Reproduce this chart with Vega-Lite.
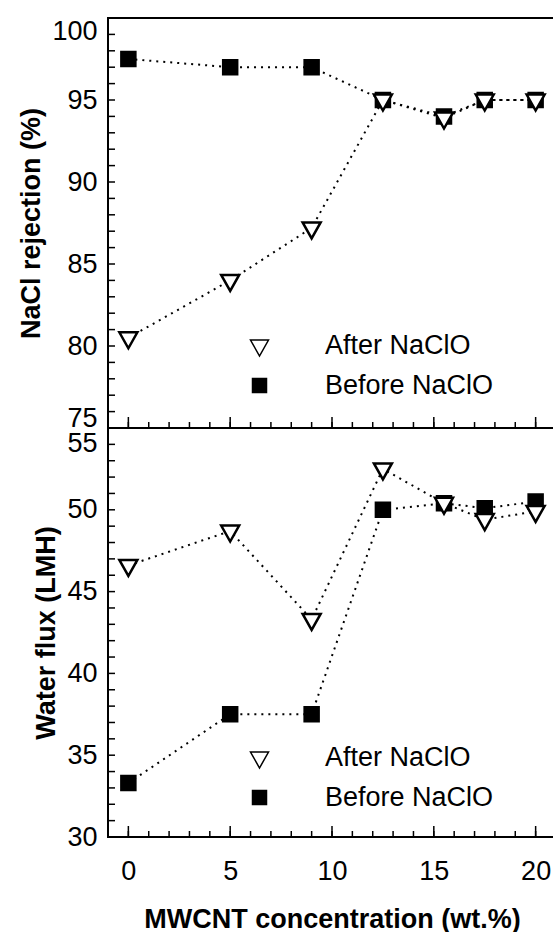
{
  "$schema": "https://vega.github.io/schema/vega-lite/v6.json",
  "padding": {"left": 16, "top": 14, "right": 0, "bottom": 5},
  "background": "white",
  "spacing": 0,
  "bounds": "flush",
  "config": {
    "font": "Liberation Sans",
    "view": {"stroke": "black", "strokeWidth": 2},
    "axis": {
      "labelFont": "Liberation Sans", "labelFontSize": 27, "labelColor": "black",
      "titleFont": "Liberation Sans", "titleFontSize": 27, "titleFontWeight": "bold", "titleColor": "black",
      "ticks": false, "tickSize": 0, "domain": false, "grid": false
    },
    "legend": {"labelFont": "Liberation Sans", "labelFontSize": 27, "labelColor": "black", "labelLimit": 400}
  },
  "datasets": {
    "rej": [
      {"series": "Before NaClO", "x": 0, "y": 97.5},
      {"series": "Before NaClO", "x": 5, "y": 97.0},
      {"series": "Before NaClO", "x": 9, "y": 97.0},
      {"series": "Before NaClO", "x": 12.5, "y": 95.0},
      {"series": "Before NaClO", "x": 15.5, "y": 94.0},
      {"series": "Before NaClO", "x": 17.5, "y": 95.0},
      {"series": "Before NaClO", "x": 20, "y": 95.0},
      {"series": "After NaClO", "x": 0, "y": 80.5},
      {"series": "After NaClO", "x": 5, "y": 84.0},
      {"series": "After NaClO", "x": 9, "y": 87.2},
      {"series": "After NaClO", "x": 12.5, "y": 95.0},
      {"series": "After NaClO", "x": 15.5, "y": 93.9},
      {"series": "After NaClO", "x": 17.5, "y": 95.0},
      {"series": "After NaClO", "x": 20, "y": 95.0}
    ],
    "flux": [
      {"series": "Before NaClO", "x": 0, "y": 33.3},
      {"series": "Before NaClO", "x": 5, "y": 37.5},
      {"series": "Before NaClO", "x": 9, "y": 37.5},
      {"series": "Before NaClO", "x": 12.5, "y": 50.0},
      {"series": "Before NaClO", "x": 15.5, "y": 50.4},
      {"series": "Before NaClO", "x": 17.5, "y": 50.1},
      {"series": "Before NaClO", "x": 20, "y": 50.5},
      {"series": "After NaClO", "x": 0, "y": 46.6},
      {"series": "After NaClO", "x": 5, "y": 48.7},
      {"series": "After NaClO", "x": 9, "y": 43.3},
      {"series": "After NaClO", "x": 12.5, "y": 52.5},
      {"series": "After NaClO", "x": 15.5, "y": 50.4},
      {"series": "After NaClO", "x": 17.5, "y": 49.4},
      {"series": "After NaClO", "x": 20, "y": 49.9}
    ],
    "tkx": [
      {"v": 0}, {"v": 1}, {"v": 2}, {"v": 3}, {"v": 4}, {"v": 5}, {"v": 6}, {"v": 7}, {"v": 8}, {"v": 9}, {"v": 10},
      {"v": 11}, {"v": 12}, {"v": 13}, {"v": 14}, {"v": 15}, {"v": 16}, {"v": 17}, {"v": 18}, {"v": 19}, {"v": 20}
    ],
    "tkxm": [{"v": 0}, {"v": 5}, {"v": 10}, {"v": 15}, {"v": 20}],
    "tkyr": [
      {"v": 75}, {"v": 76}, {"v": 77}, {"v": 78}, {"v": 79}, {"v": 80}, {"v": 81}, {"v": 82}, {"v": 83}, {"v": 84},
      {"v": 85}, {"v": 86}, {"v": 87}, {"v": 88}, {"v": 89}, {"v": 90}, {"v": 91}, {"v": 92}, {"v": 93}, {"v": 94},
      {"v": 95}, {"v": 96}, {"v": 97}, {"v": 98}, {"v": 99}, {"v": 100}
    ],
    "tkyf": [
      {"v": 30}, {"v": 31}, {"v": 32}, {"v": 33}, {"v": 34}, {"v": 35}, {"v": 36}, {"v": 37}, {"v": 38}, {"v": 39},
      {"v": 40}, {"v": 41}, {"v": 42}, {"v": 43}, {"v": 44}, {"v": 45}, {"v": 46}, {"v": 47}, {"v": 48}, {"v": 49},
      {"v": 50}, {"v": 51}, {"v": 52}, {"v": 53}, {"v": 54}, {"v": 55}
    ]
  },
  "resolve": {
    "scale": {"shape": "independent", "fill": "independent", "y": "independent"},
    "legend": {"shape": "independent", "fill": "independent"}
  },
  "vconcat": [
    {
      "width": 448, "height": 410,
      "layer": [
        {
          "data": {"name": "tkyr"},
          "mark": {"type": "point", "shape": "M0,0H7", "filled": false, "stroke": "black", "strokeWidth": 1.5, "size": 4, "opacity": 1},
          "encoding": {
            "x": {"datum": -1, "type": "quantitative"},
            "y": {"field": "v", "type": "quantitative"}
          }
        },
        {
          "data": {"name": "tkx"},
          "mark": {"type": "point", "shape": "M0,0V-6", "filled": false, "stroke": "black", "strokeWidth": 1.5, "size": 4, "opacity": 1},
          "encoding": {
            "x": {"field": "v", "type": "quantitative"},
            "y": {"datum": 75, "type": "quantitative"}
          }
        },
        {
          "data": {"name": "tkxm"},
          "mark": {"type": "point", "shape": "M0,0V-11", "filled": false, "stroke": "black", "strokeWidth": 1.5, "size": 4, "opacity": 1},
          "encoding": {
            "x": {"field": "v", "type": "quantitative"},
            "y": {"datum": 75, "type": "quantitative"}
          }
        },
        {
          "data": {"name": "rej"},
          "mark": {"type": "line", "stroke": "black", "strokeWidth": 2, "strokeDash": [2, 5]},
          "encoding": {
            "x": {"field": "x", "type": "quantitative", "scale": {"domain": [-1, 21], "nice": false, "zero": false},
              "axis": {"orient": "bottom", "values": [0,5,10,15,20], "labels": false, "title": null}},
            "y": {"field": "y", "type": "quantitative", "scale": {"domain": [75, 100], "nice": false, "zero": false},
              "axis": {"orient": "left", "values": [75,80,85,90,95,100], "labelPadding": 11,
                "title": "NaCl rejection (%)", "titlePadding": 6,
                "labelBaseline": {"condition": {"test": "datum.value === 100", "value": "top"}, "value": "middle"},
                "labelOffset": {"condition": {"test": "datum.value === 75", "value": -10}, "value": 0}}},
            "detail": {"field": "series"}
          }
        },
        {
          "data": {"name": "rej"},
          "mark": {"type": "point", "filled": true, "stroke": "black", "strokeWidth": 2.5, "size": 4, "opacity": 1},
          "encoding": {
            "x": {"field": "x", "type": "quantitative"},
            "y": {"field": "y", "type": "quantitative"},
            "fill": {"field": "series", "type": "nominal", "scale": {"domain": ["After NaClO", "Before NaClO"], "range": ["white", "black"]}, "legend": null},
            "shape": {"field": "series", "type": "nominal",
              "scale": {"domain": ["After NaClO", "Before NaClO"], "range": ["M-9,-5.5L9,-5.5L0,10.5Z", "M-7,-7H7V7H-7Z"]},
              "legend": {"orient": "none", "legendX": 138, "legendY": 314, "title": null, "symbolSize": 4, "labelOffset": 52, "rowPadding": 12,
                "encode": {"symbols": {"update": {
                  "shape": {"signal": "datum.value === 'After NaClO' ? 'M-9,-5.5L9,-5.5L0,10.5ZM-28.5,0h2M-22,0h2M-17,0h2M11.5,0h2M16.5,0h2M20.5,0h2' : 'M-7,-7H7V7H-7ZM-28.5,0h2M-22,0h2M-17,0h2M11.5,0h2M16.5,0h2M20.5,0h2'"},
                  "fill": {"signal": "datum.value === 'After NaClO' ? 'white' : 'black'"},
                  "stroke": {"value": "black"}, "strokeWidth": {"value": 2.5}, "opacity": {"value": 1}}}}}}
          }
        }
      ]
    },
    {
      "width": 448, "height": 409,
      "layer": [
        {
          "data": {"name": "tkyf"},
          "mark": {"type": "point", "shape": "M0,0H7", "filled": false, "stroke": "black", "strokeWidth": 1.5, "size": 4, "opacity": 1},
          "encoding": {
            "x": {"datum": -1, "type": "quantitative"},
            "y": {"field": "v", "type": "quantitative"}
          }
        },
        {
          "data": {"name": "tkx"},
          "mark": {"type": "point", "shape": "M0,0V-6", "filled": false, "stroke": "black", "strokeWidth": 1.5, "size": 4, "opacity": 1},
          "encoding": {
            "x": {"field": "v", "type": "quantitative"},
            "y": {"datum": 30, "type": "quantitative"}
          }
        },
        {
          "data": {"name": "tkxm"},
          "mark": {"type": "point", "shape": "M0,0V-11", "filled": false, "stroke": "black", "strokeWidth": 1.5, "size": 4, "opacity": 1},
          "encoding": {
            "x": {"field": "v", "type": "quantitative"},
            "y": {"datum": 30, "type": "quantitative"}
          }
        },
        {
          "data": {"name": "flux"},
          "mark": {"type": "line", "stroke": "black", "strokeWidth": 2, "strokeDash": [2, 5]},
          "encoding": {
            "x": {"field": "x", "type": "quantitative", "scale": {"domain": [-1, 21], "nice": false, "zero": false},
              "axis": {"orient": "bottom", "values": [0,5,10,15,20], "labelPadding": 21,
                "title": "MWCNT concentration (wt.%)", "titlePadding": 22}},
            "y": {"field": "y", "type": "quantitative", "scale": {"domain": [30, 55], "nice": false, "zero": false},
              "axis": {"orient": "left", "values": [30,35,40,45,50,55], "labelPadding": 11,
                "title": "Water flux (LMH)", "titlePadding": 6,
                "labelOffset": {"condition": {"test": "datum.value === 55", "value": 15}, "value": 0}}},
            "detail": {"field": "series"}
          }
        },
        {
          "data": {"name": "flux"},
          "mark": {"type": "point", "filled": true, "stroke": "black", "strokeWidth": 2.5, "size": 4, "opacity": 1},
          "encoding": {
            "x": {"field": "x", "type": "quantitative"},
            "y": {"field": "y", "type": "quantitative"},
            "fill": {"field": "series", "type": "nominal", "scale": {"domain": ["After NaClO", "Before NaClO"], "range": ["white", "black"]}, "legend": null},
            "shape": {"field": "series", "type": "nominal",
              "scale": {"domain": ["After NaClO", "Before NaClO"], "range": ["M-9,-5.5L9,-5.5L0,10.5Z", "M-7,-7H7V7H-7Z"]},
              "legend": {"orient": "none", "legendX": 138, "legendY": 316, "title": null, "symbolSize": 4, "labelOffset": 52, "rowPadding": 12,
                "encode": {"symbols": {"update": {
                  "shape": {"signal": "datum.value === 'After NaClO' ? 'M-9,-5.5L9,-5.5L0,10.5ZM-28.5,0h2M-22,0h2M-17,0h2M11.5,0h2M16.5,0h2M20.5,0h2' : 'M-7,-7H7V7H-7ZM-28.5,0h2M-22,0h2M-17,0h2M11.5,0h2M16.5,0h2M20.5,0h2'"},
                  "fill": {"signal": "datum.value === 'After NaClO' ? 'white' : 'black'"},
                  "stroke": {"value": "black"}, "strokeWidth": {"value": 2.5}, "opacity": {"value": 1}}}}}}
          }
        }
      ]
    }
  ]
}
